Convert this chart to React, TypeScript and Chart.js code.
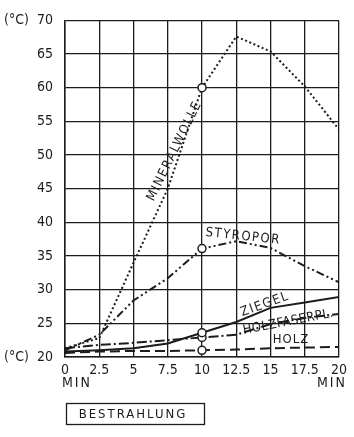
import React, { useEffect, useRef } from 'react';
import { Chart, registerables } from 'chart.js';

Chart.register(...registerables);

// ---- data ----
const minutes = [0, 2.5, 5, 7.5, 10, 12.5, 15, 17.5, 20];
const xTickLabels = ['0', '2.5', '5', '7.5', '10', '12.5', '15', '17.5', '20'];
const mineralwolle = [21.3, 22.8, 34, 45, 60, 67.6, 65.4, 60.2, 53.8];
const styropor = [21.0, 23.3, 28.4, 31.7, 36.1, 37.2, 36.2, 33.5, 31.1];
const ziegel = [20.8, 21.0, 21.3, 22.0, 23.6, 25.2, 27.3, 28.1, 28.9];
const holzfaserpl = [21.3, 21.8, 22.1, 22.5, 22.9, 23.3, 24.9, 25.8, 26.4];
const holz = [20.6, 20.8, 20.9, 20.9, 21.0, 21.1, 21.3, 21.4, 21.5];
const seriesNames = ['MINERALWOLLE', 'STYROPOR', 'ZIEGEL', 'HOLZFASERPL.', 'HOLZ'];
const yUnit = '(°C)';
const xUnit = 'MIN';
const caption = 'BESTRAHLUNG';

const INK = '#1c1c1c';
const FONT = "'DejaVu Sans Condensed', 'Liberation Sans Narrow', 'DejaVu Sans', sans-serif";

// label placement (data coords, angle in degrees) for each series name
const labelPlacement = [
  { x: 8.0, y: 50.6, a: -64, size: 13, sp: 1.5 },
  { x: 13.0, y: 37.9, a: 6, size: 13, sp: 1.5 },
  { x: 14.6, y: 27.8, a: -20, size: 13, sp: 1.5 },
  { x: 16.3, y: 25.2, a: -11, size: 13, sp: 0.5 },
  { x: 16.5, y: 22.6, a: 0, size: 13, sp: 1 },
];

const toPoints = (vals: number[]) => vals.map((v, i) => ({ x: minutes[i], y: v }));

const annotate = {
  id: 'annotate',
  afterDraw(chart: any) {
    const { ctx, scales } = chart;
    const x = scales.x;
    const y = scales.y;
    ctx.save();
    ctx.fillStyle = INK;
    ctx.strokeStyle = INK;
    ctx.textBaseline = 'middle';
    ctx.textAlign = 'left';
    ctx.font = `14px ${FONT}`;
    ctx.fillText(yUnit, 4, y.getPixelForValue(70));
    ctx.fillText(yUnit, 4, y.getPixelForValue(20));
    (ctx as any).letterSpacing = '2px';
    ctx.fillText(xUnit, x.getPixelForValue(0) - 3, y.bottom + 26);
    ctx.textAlign = 'right';
    ctx.fillText(xUnit, x.getPixelForValue(20) + 8, y.bottom + 26);

    seriesNames.forEach((name, i) => {
      const p = labelPlacement[i];
      ctx.save();
      ctx.translate(x.getPixelForValue(p.x), y.getPixelForValue(p.y));
      ctx.rotate((p.a * Math.PI) / 180);
      ctx.font = `${p.size}px ${FONT}`;
      (ctx as any).letterSpacing = `${p.sp}px`;
      ctx.textAlign = 'center';
      ctx.textBaseline = 'middle';
      ctx.fillText(name, 0, 0);
      ctx.restore();
    });

    // caption box
    ctx.lineWidth = 1.3;
    ctx.strokeRect(66.5, 403.5, 138, 21);
    ctx.font = `13px ${FONT}`;
    (ctx as any).letterSpacing = '2px';
    ctx.textAlign = 'center';
    ctx.fillText(caption, 133, 414.5);
    ctx.restore();
  },
};

export default function App() {
  const ref = useRef<HTMLCanvasElement>(null);
  useEffect(() => {
    const canvas = ref.current!;
    const pointR = (c: any) => (c.parsed && c.parsed.x === 10 ? 4 : 0);
    const common = {
      borderColor: INK,
      backgroundColor: INK,
      fill: false,
      tension: 0,
      pointRadius: pointR,
      pointBackgroundColor: '#fff',
      pointBorderColor: INK,
      pointBorderWidth: 1.5,
    };
    const chart = new Chart(canvas, {
      type: 'line',
      data: {
        datasets: [
          { ...common, label: seriesNames[0], data: toPoints(mineralwolle), borderWidth: 2, borderDash: [2, 2.5] },
          { ...common, label: seriesNames[1], data: toPoints(styropor), borderWidth: 2, borderDash: [8, 3, 2, 3, 2, 3] },
          { ...common, label: seriesNames[2], data: toPoints(ziegel), borderWidth: 2 },
          { ...common, label: seriesNames[3], data: toPoints(holzfaserpl), borderWidth: 2, borderDash: [10, 3, 2, 3] },
          { ...common, label: seriesNames[4], data: toPoints(holz), borderWidth: 2, borderDash: [10, 5] },
        ],
      },
      options: {
        responsive: false,
        animation: false,
        devicePixelRatio: 1,
        layout: { padding: { left: 0, right: 15, top: 16, bottom: 0 } },
        plugins: { legend: { display: false }, tooltip: { enabled: false } },
        scales: {
          x: {
            type: 'linear',
            min: 0,
            max: 20,
            afterFit: (s: any) => { s.height = 80; },
            ticks: {
              stepSize: 2.5,
              padding: 5,
              autoSkip: false,
              maxRotation: 0,
              color: INK,
              font: { family: FONT, size: 14 },
              callback: (v: any) => {
                const i = minutes.indexOf(Number(v));
                return i >= 0 ? xTickLabels[i] : '';
              },
            },
            grid: { drawTicks: false, color: INK, lineWidth: 1.3 },
            border: { color: INK, width: 1.5 },
          },
          y: {
            min: 20,
            max: 70,
            afterFit: (s: any) => { s.width = 65; },
            ticks: {
              stepSize: 5,
              padding: 12,
              color: INK,
              font: { family: FONT, size: 14 },
            },
            grid: { drawTicks: false, color: INK, lineWidth: 1.3 },
            border: { color: INK, width: 1.5 },
          },
        },
      },
      plugins: [annotate],
    } as any);
    return () => chart.destroy();
  }, []);
  return (
    <div style={{ position: 'fixed', left: 0, top: 0, width: 354, height: 437, background: '#fff' }}>
      <canvas ref={ref} width={354} height={437} style={{ display: 'block' }} />
    </div>
  );
}
